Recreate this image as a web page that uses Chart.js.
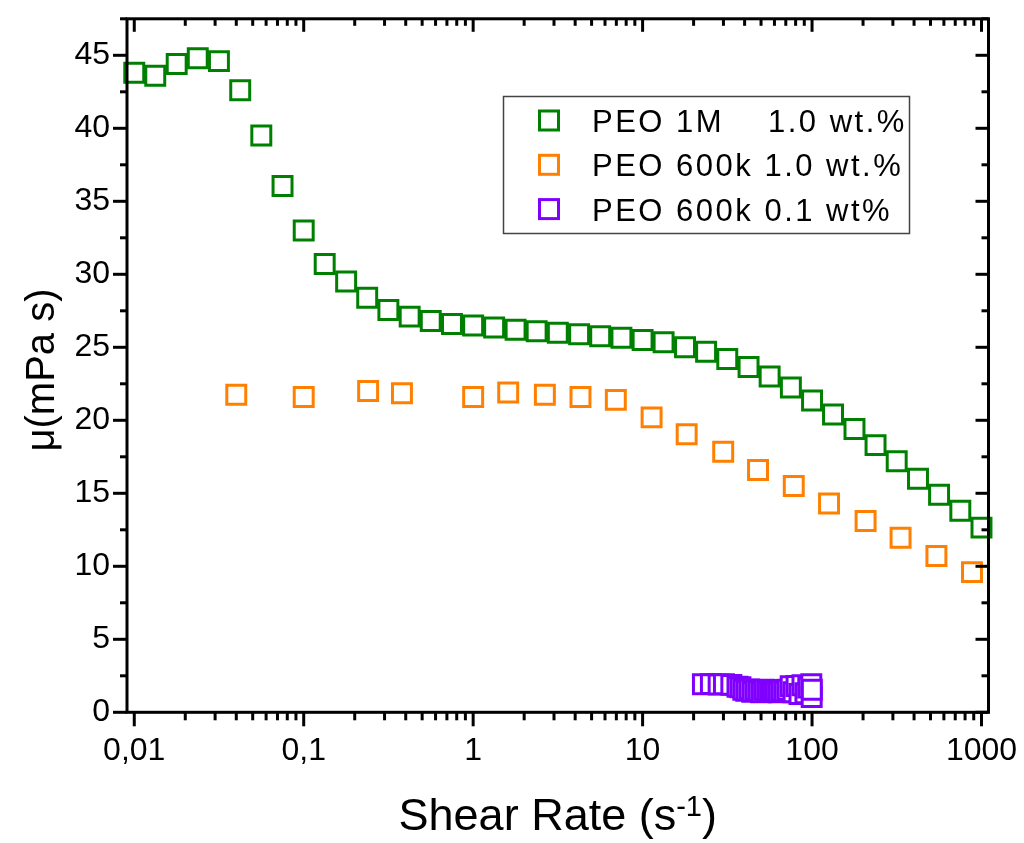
<!DOCTYPE html>
<html>
<head>
<meta charset="utf-8">
<script src="https://cdn.jsdelivr.net/npm/chart.js@4.4.0/dist/chart.umd.min.js"></script>
<style>
  html, body { margin: 0; padding: 0; background: #fff; }
  canvas { display: block; }
</style>
</head>
<body>
<canvas id="chart" width="1024" height="843"></canvas>
<script>
// ---------- DATA ----------
const peo1mRate = [0.01, 0.0133, 0.0178, 0.0237, 0.0316, 0.0422, 0.0562, 0.075, 0.1, 0.133, 0.178,
    0.237, 0.316, 0.422, 0.562, 0.75, 1, 1.33, 1.78, 2.37, 3.16, 4.22, 5.62, 7.5, 10, 13.3, 17.8,
    23.7, 31.6, 42.2, 56.2, 75, 100, 133, 178, 237, 316, 422, 562, 750, 1000];
const peo1mVisc = [43.8, 43.6, 44.4, 44.8, 44.6, 42.6, 39.5, 36.05, 33.0, 30.7, 29.5,
    28.4, 27.55, 27.1, 26.8, 26.6, 26.5, 26.35, 26.2, 26.1, 26.0, 25.9, 25.75, 25.65, 25.5, 25.35, 25.0,
    24.7, 24.2, 23.65, 23.0, 22.25, 21.35, 20.4, 19.4, 18.3, 17.2, 16.0, 14.9, 13.8, 12.65];

const peo600kRate = [0.04, 0.1, 0.24, 0.38, 1.0, 1.61, 2.65, 4.3, 6.95, 11.3, 18.2, 29.9, 48, 78, 126, 207, 333, 542, 879];
const peo600kVisc = [21.75, 21.6, 22.0, 21.85, 21.6, 21.9, 21.75, 21.6, 21.4, 20.2, 19.05, 17.85, 16.6, 15.5, 14.3, 13.1, 11.95, 10.7, 9.6];

const peoDiluteRate = [22.7, 25.3, 28.1, 30.2, 33.4, 36.3, 37.8, 39.3, 40.9, 42.6, 44.4, 46.2, 48.1, 50.1, 52.1,
    54.3, 56.5, 58.8, 61.2, 63.7, 66.3, 69.0, 71.8, 74.8, 77.8, 81.0, 84.3, 87.8, 91.4, 95.0, 99.0, 99.5, 99.7];
const peoDiluteVisc = [1.92, 1.93, 1.90, 1.92, 1.88, 1.75, 1.72, 1.55, 1.48, 1.57, 1.40, 1.52, 1.45, 1.38, 1.55,
    1.47, 1.40, 1.53, 1.45, 1.38, 1.50, 1.42, 1.55, 1.78, 1.37, 1.80, 1.25, 1.85, 1.30, 1.70, 1.92, 1.05, 1.55];

const seriesNames = ['PEO 1M', 'PEO 600k 1.0 wt.%', 'PEO 600k 0.1 wt%'];
const seriesColors = ['#008000', '#ff8000', '#8000ff'];

const xTickValues = [0.01, 0.1, 1, 10, 100, 1000];
const xTickLabels = ['0,01', '0,1', '1', '10', '100', '1000'];
const yTickValues = [0, 5, 10, 15, 20, 25, 30, 35, 40, 45];

// ---------- HELPERS ----------
const toPoints = (xs, ys) => xs.map((v, i) => ({ x: v, y: ys[i] }));
const FONT = 'Liberation Sans, Arial, sans-serif';

function squareMarker(color, data) {
    return {
        data,
        pointStyle: 'rect',
        pointRadius: 13.4,
        pointHoverRadius: 13.4,
        pointBorderWidth: 3,
        pointBorderColor: color,
        pointBackgroundColor: '#ffffff',
        showLine: false,
        clip: false
    };
}

// ---------- FRAME + TICKS ----------
const framePlugin = {
    id: 'frame',
    afterDraw(chart) {
        const { ctx, chartArea: a, scales: { x, y } } = chart;
        ctx.save();
        ctx.strokeStyle = '#000';
        ctx.lineWidth = 3;
        ctx.lineCap = 'butt';

        const tick = (x1, y1, x2, y2) => {
            ctx.beginPath(); ctx.moveTo(x1, y1); ctx.lineTo(x2, y2); ctx.stroke();
        };

        // x ticks (major at decades, minor 2..9)
        for (let e = -3; e <= 3; e++) {
            for (let m = 1; m <= 9; m++) {
                const v = m * Math.pow(10, e);
                if (v < x.min || v > x.max) continue;
                const px = x.getPixelForValue(v);
                const major = m === 1;
                tick(px, a.bottom, px, a.bottom + (major ? 14 : 8));
                tick(px, a.top, px, a.top + (major ? 13 : 7));
            }
        }
        // y ticks (major every 5, minor every 2.5)
        for (let v = 0; v <= y.max; v += 2.5) {
            const py = y.getPixelForValue(v);
            const major = v % 5 === 0;
            tick(a.left, py, a.left - (major ? 14 : 7), py);
            tick(a.right, py, a.right - (major ? 13 : 7), py);
        }

        ctx.strokeRect(a.left, a.top, a.right - a.left, a.bottom - a.top);

        // axis titles
        ctx.fillStyle = '#000';
        ctx.textBaseline = 'alphabetic';
        ctx.textAlign = 'left';
        const main = 'Shear Rate (s', sup = '-1', close = ')';
        ctx.font = `45px ${FONT}`;
        const w1 = ctx.measureText(main).width;
        const w3 = ctx.measureText(close).width;
        ctx.font = `29px ${FONT}`;
        const w2 = ctx.measureText(sup).width;
        let tx = (a.left + a.right) / 2 - (w1 + w2 + w3) / 2;
        ctx.font = `45px ${FONT}`;
        ctx.fillText(main, tx, 830);
        ctx.font = `29px ${FONT}`;
        ctx.fillText(sup, tx + w1, 816);
        ctx.font = `45px ${FONT}`;
        ctx.fillText(close, tx + w1 + w2, 830);

        ctx.save();
        ctx.translate(54, 370);
        ctx.rotate(-Math.PI / 2);
        ctx.textAlign = 'center';
        ctx.font = `40px ${FONT}`;
        ctx.fillText('\u03bc(mPa s)', 0, 0);
        ctx.restore();

        // legend box
        ctx.fillStyle = '#fff';
        ctx.fillRect(503.5, 96.5, 406, 137);
        ctx.strokeStyle = '#444';
        ctx.lineWidth = 1.5;
        ctx.strokeRect(503.5, 96.5, 406, 137);

        const rows = [120.5, 164.8, 209.1];
        rows.forEach((ry, i) => {
            ctx.strokeStyle = seriesColors[i];
            ctx.lineWidth = 3;
            ctx.fillStyle = '#fff';
            ctx.fillRect(539.5, ry - 9.5, 19, 19);
            ctx.strokeRect(539.5, ry - 9.5, 19, 19);
            ctx.fillStyle = '#000';
            ctx.font = `31px ${FONT}`;
            ctx.letterSpacing = '2.5px';
            ctx.textAlign = 'left';
            if (i === 0) {
                ctx.fillText(seriesNames[0], 592, ry + 11.5);
                ctx.fillText('1.0 wt.%', 768, ry + 11.5);
            } else {
                ctx.fillText(seriesNames[i], 592, ry + 11.5);
            }
            ctx.letterSpacing = '0px';
        });
        ctx.restore();
    }
};

// ---------- CHART ----------
new Chart(document.getElementById('chart'), {
    type: 'scatter',
    data: {
        datasets: [
            { label: seriesNames[0], ...squareMarker(seriesColors[0], toPoints(peo1mRate, peo1mVisc)) },
            { label: seriesNames[1], ...squareMarker(seriesColors[1], toPoints(peo600kRate, peo600kVisc)) },
            { label: seriesNames[2], ...squareMarker(seriesColors[2], toPoints(peoDiluteRate, peoDiluteVisc)) }
        ]
    },
    options: {
        responsive: false,
        animation: false,
        devicePixelRatio: 1,
        layout: { padding: { left: 0, right: 35.5, top: 18.8, bottom: 0 } },
        plugins: { legend: { display: false }, tooltip: { enabled: false } },
        scales: {
            x: {
                type: 'logarithmic',
                min: 0.00906,
                max: 1100,
                grid: { display: false, drawTicks: false },
                border: { display: false },
                ticks: {
                    autoSkip: false, maxRotation: 0, padding: 20, color: '#000',
                    font: { family: FONT, size: 32 },
                    callback: (v, i) => xTickLabels[i]
                },
                afterBuildTicks: s => { s.ticks = xTickValues.map(v => ({ value: v })); },
                afterFit: s => {
                    s.height = 130.7;
                    s.paddingLeft = 0; s.paddingRight = 0; s.paddingTop = 0; s.paddingBottom = 0;
                }
            },
            y: {
                type: 'linear',
                min: 0,
                max: 47.5,
                grid: { display: false, drawTicks: false },
                border: { display: false },
                ticks: {
                    autoSkip: false, padding: 17, color: '#000',
                    font: { family: FONT, size: 32 },
                    callback: v => v
                },
                afterBuildTicks: s => { s.ticks = yTickValues.map(v => ({ value: v })); },
                afterFit: s => {
                    s.width = 127;
                    s.paddingLeft = 0; s.paddingRight = 0; s.paddingTop = 0; s.paddingBottom = 0;
                }
            }
        }
    },
    plugins: [framePlugin]
});
</script>
</body>
</html>
